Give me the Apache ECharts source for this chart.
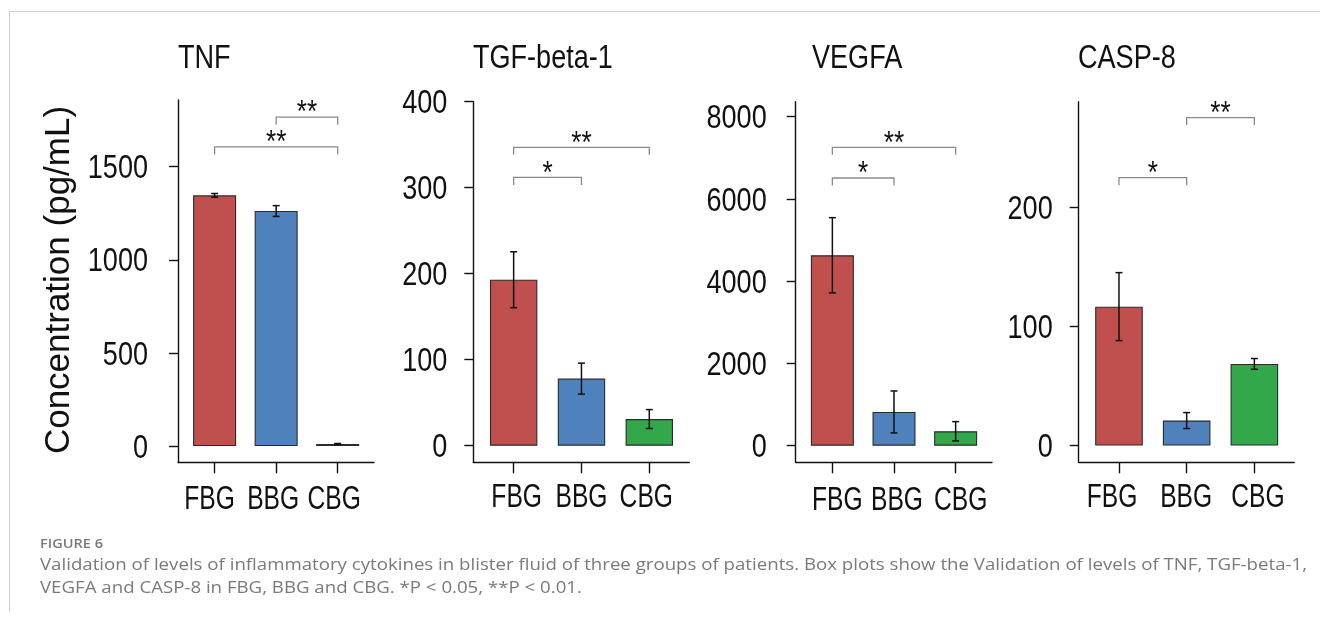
<!DOCTYPE html>
<html><head><meta charset="utf-8">
<script src="https://cdn.jsdelivr.net/npm/echarts@6/dist/echarts.min.js"></script>
<style>html,body{margin:0;padding:0;background:#fff}#c{width:1320px;height:618px}</style>
</head><body><div id="c"></div>
<script>
// ---------- data ----------
const groups = ['FBG', 'BBG', 'CBG'];
const panelTitles = ['TNF', 'TGF-beta-1', 'VEGFA', 'CASP-8'];
const yAxisTitle = 'Concentration (pg/mL)';

const tnfMean = [1346, 1262, 11];
const tnfErr = [10, 29, 3];
const tgfMean = [193, 78, 31];
const tgfErr = [32.5, 18, 11];
const vegfaMean = [4630, 820, 350];
const vegfaErr = [915, 510, 235];
const casp8Mean = [116.5, 21, 68.5];
const casp8Err = [28.5, 6.7, 4.5];

const tnfTicks = [0, 500, 1000, 1500];
const tgfTicks = [0, 100, 200, 300, 400];
const vegfaTicks = [0, 2000, 4000, 6000, 8000];
const casp8Ticks = [0, 100, 200];

// significance brackets: [from group (1-based), to group, bracket level, label]
const tnfSig = [[2, 3, 1766, '**'], [1, 3, 1606, '**']];
const tgfSig = [[1, 3, 347, '**'], [1, 2, 312, '*']];
const vegfaSig = [[1, 3, 7256, '**'], [1, 2, 6509, '*']];
const casp8Sig = [[2, 3, 275, '**'], [1, 2, 224.6, '*']];

const captionHead = 'FIGURE 6';
const captionLines = [
  'Validation of levels of inflammatory cytokines in blister fluid of three groups of patients. Box plots show the Validation of levels of TNF, TGF-beta-1,',
  'VEGFA and CASP-8 in FBG, BBG and CBG. *P < 0.05, **P < 0.01.'
];

// ---------- styles / layout ----------
const groupColors = ['#C0504D', '#4F81BD', '#33A84A'];

function hasFont(name) {
  const c = document.createElement('canvas').getContext('2d');
  const t = 'FBG BBG CBG 1500 TGF-beta-1';
  c.font = '40px monospace';
  const a = c.measureText(t).width;
  c.font = '40px "' + name + '", monospace';
  const b = c.measureText(t).width;
  return Math.abs(a - b) > 0.5;
}
function textWidth(txt, font) {
  const c = document.createElement('canvas').getContext('2d');
  c.font = font;
  return c.measureText(txt).width;
}
const NARROW = hasFont('Liberation Sans Narrow');
const HF = NARROW ? '"Liberation Sans Narrow", "Liberation Sans", Arial, sans-serif' : '"Liberation Sans", Arial, sans-serif';
const SX = NARROW ? 1 : 0.82;   // horizontal condensing of the narrow sans
const INK = '#111';

const panels = [
  { mean: tnfMean, err: tnfErr, ticks: tnfTicks, sig: tnfSig, left: 178, width: 196, top: 100, min: -87, max: 1858, bw: 43, lm: 30, tx: 178, lx: [-5, -3, -3.5], ly: 0.5 },
  { mean: tgfMean, err: tgfErr, ticks: tgfTicks, sig: tgfSig, left: 473.3, width: 216, top: 101.7, min: -19.3, max: 400, bw: 47.4, lm: 26, tx: 473, lx: [3, 0, -3], ly: -1.5 },
  { mean: vegfaMean, err: vegfaErr, ticks: vegfaTicks, sig: vegfaSig, left: 795.7, width: 196.3, top: 101.7, min: -404, max: 8365, bw: 43, lm: 29, tx: 812, lx: [5, 3, 5], ly: 1.5 },
  { mean: casp8Mean, err: casp8Err, ticks: casp8Ticks, sig: casp8Sig, left: 1078.7, width: 215.6, top: 101.7, min: -14, max: 288.3, bw: 47.6, lm: 26, tx: 1078, lx: [-7, -0.5, 3.5], ly: -1.5 }
];
const gridBottomY = 462.3;

const grids = [], xAxes = [], yAxes = [], series = [];
panels.forEach((p, i) => {
  grids.push({ left: p.left, top: p.top, width: p.width, height: gridBottomY - p.top, containLabel: false });
  xAxes.push({
    gridIndex: i, type: 'value', min: 0.405, max: 3.59, position: 'bottom',
    axisLine: { show: true, onZero: false, lineStyle: { color: INK, width: 1.4 } },
    axisTick: { show: true, inside: false, length: 11, customValues: [1, 2, 3], lineStyle: { color: INK, width: 1.4 } },
    axisLabel: { show: false },
    splitLine: { show: false }
  });
  yAxes.push({
    gridIndex: i, type: 'value', min: p.min, max: p.max,
    axisLine: { show: true, lineStyle: { color: INK, width: 1.4 } },
    axisTick: { show: true, inside: false, length: 9, customValues: p.ticks, lineStyle: { color: INK, width: 1.4 } },
    axisLabel: { show: false },
    splitLine: { show: false }
  });
  // bars
  series.push({
    type: 'bar', xAxisIndex: i, yAxisIndex: i, barWidth: p.bw, z: 2,
    data: p.mean.map((m, j) => ({ value: [j + 1, m], itemStyle: { color: groupColors[j], borderColor: '#2b2b2b', borderWidth: 1.1 } }))
  });
  // error bars
  series.push({
    type: 'custom', xAxisIndex: i, yAxisIndex: i, z: 3, clip: false,
    encode: { x: 0, y: [1, 2] },
    data: p.mean.map((m, j) => [j + 1, m - p.err[j], m + p.err[j]]),
    renderItem: (params, api) => {
      const x = api.value(0);
      const a = api.coord([x, api.value(2)]);
      const b = api.coord([x, api.value(1)]);
      const cw = 3.5, st = { stroke: INK, lineWidth: 1.5 };
      return { type: 'group', children: [
        { type: 'line', shape: { x1: a[0], y1: a[1], x2: b[0], y2: b[1] }, style: st },
        { type: 'line', shape: { x1: a[0] - cw, y1: a[1], x2: a[0] + cw, y2: a[1] }, style: st },
        { type: 'line', shape: { x1: b[0] - cw, y1: b[1], x2: b[0] + cw, y2: b[1] }, style: st }
      ] };
    }
  });
  // significance brackets
  series.push({
    type: 'custom', xAxisIndex: i, yAxisIndex: i, z: 3, clip: false,
    encode: { x: [0, 1], y: 2 },
    data: p.sig.map(s => [s[0], s[1], s[2]]),
    renderItem: (params, api) => {
      const y = api.value(2);
      const p1 = api.coord([api.value(0), y]);
      const p2 = api.coord([api.value(1), y]);
      const leg = 7.5;
      const label = p.sig[params.dataIndex][3];
      return { type: 'group', children: [
        { type: 'polyline', shape: { points: [[p1[0], p1[1] + leg], [p1[0], p1[1]], [p2[0], p2[1]], [p2[0], p2[1] + leg]] },
          style: { stroke: '#8a8a8a', lineWidth: 1.3, fill: null } },
        { type: 'text', x: (p1[0] + p2[0]) / 2, y: p1[1] - 3.5, scaleX: SX,
          style: { text: label, font: '32px ' + HF, fill: INK, align: 'center', verticalAlign: 'middle' } }
      ] };
    }
  });
  // y tick labels (placed through the y scale)
  series.push({
    type: 'custom', xAxisIndex: i, yAxisIndex: i, z: 3, clip: false, silent: true,
    encode: { x: 0, y: 1 },
    data: p.ticks.map(v => [1, v]),
    renderItem: (params, api) => {
      const v = api.value(1);
      const pt = api.coord([1, v]);
      return { type: 'text', x: params.coordSys.x - p.lm, y: pt[1] + 2.5, scaleX: SX,
        style: { text: String(v), font: '33px ' + HF, fill: INK, align: 'right', verticalAlign: 'middle' } };
    }
  });
  // x category labels (placed through the x scale)
  series.push({
    type: 'custom', xAxisIndex: i, yAxisIndex: i, z: 3, clip: false, silent: true,
    encode: { x: 0, y: 1 },
    data: groups.map((g, j) => [j + 1, 0]),
    renderItem: (params, api) => {
      const j = params.dataIndex;
      const pt = api.coord([api.value(0), 0]);
      return { type: 'text', x: pt[0] + p.lx[j], y: params.coordSys.y + params.coordSys.height + 37 + p.ly, scaleX: SX * 0.91,
        style: { text: groups[j], font: '33px ' + HF, fill: INK, align: 'center', verticalAlign: 'middle' } };
    }
  });
});

const capFont = '15.5px "Open Sans", sans-serif';
const headFont = '600 13px "Open Sans", sans-serif';
const capScale = 1267 / textWidth(captionLines[0], capFont);
const headScale = 63 / textWidth(captionHead, headFont);

const graphics = [
  { type: 'line', shape: { x1: 9.5, y1: 11.5, x2: 1320, y2: 11.5 }, style: { stroke: '#cfcfcf', lineWidth: 1 } },
  { type: 'line', shape: { x1: 9.5, y1: 11.5, x2: 9.5, y2: 612 }, style: { stroke: '#cfcfcf', lineWidth: 1 } },
  { type: 'text', x: 59, y: 280, rotation: Math.PI / 2,
    style: { text: yAxisTitle, font: '35px "Liberation Sans", Arial, sans-serif', fill: INK, align: 'center', verticalAlign: 'middle' } },
  { type: 'text', x: 40, y: 544, scaleX: headScale, style: { text: captionHead, font: headFont, fill: '#7a7a7a', align: 'left', verticalAlign: 'middle' } },
  { type: 'text', x: 40, y: 566, scaleX: capScale, style: { text: captionLines[0], font: capFont, fill: '#7a7a7a', align: 'left', verticalAlign: 'middle' } },
  { type: 'text', x: 40, y: 589, scaleX: capScale, style: { text: captionLines[1], font: capFont, fill: '#7a7a7a', align: 'left', verticalAlign: 'middle' } }
];
panels.forEach((p, i) => {
  graphics.push({ type: 'text', x: p.tx, y: 59, scaleX: SX, style: { text: panelTitles[i], font: '33px ' + HF, fill: INK, align: 'left', verticalAlign: 'middle' } });
});

const chart = echarts.init(document.getElementById('c'), null, { renderer: 'canvas' });
chart.setOption({
  backgroundColor: '#fff',
  animation: false,
  grid: grids, xAxis: xAxes, yAxis: yAxes, series: series,
  graphic: graphics
});
</script>
</body></html>
